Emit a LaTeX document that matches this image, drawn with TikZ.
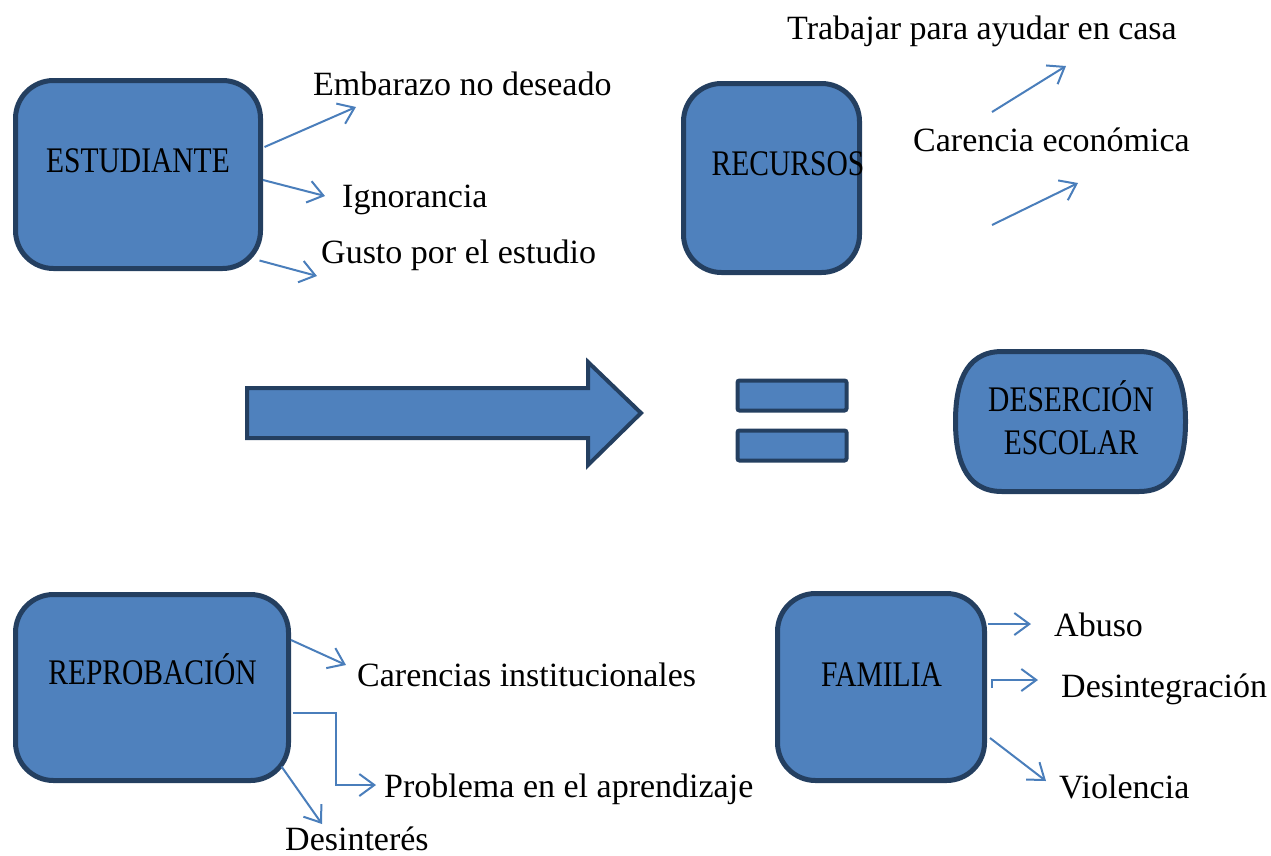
\documentclass[tikz,border=0pt]{standalone}
\usepackage{fontspec}
\setmainfont{Liberation Serif}
\newfontfamily\condfont[FakeStretch=0.82]{Liberation Serif}
\usetikzlibrary{arrows.meta,calc}
\definecolor{boxfill}{HTML}{4F81BD}
\definecolor{boxline}{HTML}{243F60}
\definecolor{arrowc}{HTML}{4A7EBB}
\begin{document}
\begin{tikzpicture}[x=1pt,y=-1pt,
  box/.style={draw=boxline, fill=boxfill, line width=5pt, rounded corners=38pt, inner sep=0pt},
  eqbox/.style={draw=boxline, fill=boxfill, line width=4pt, rounded corners=2pt, inner sep=0pt, minimum width=109pt, minimum height=30pt},
  title/.style={font=\condfont\fontsize{36}{43}\selectfont, inner sep=0pt, anchor=base},
  lbl/.style={font=\fontsize{34}{41}\selectfont, inner sep=0pt, anchor=base west},
  conn/.style={draw=arrowc, line width=2pt, -{Straight Barb[length=15pt,width=22pt]}},
]
\useasboundingbox (0,0) rectangle (1271,855);

% boxes
\node[box, minimum width=245pt, minimum height=188pt] (est) at (138,174.5) {};
\node[box, minimum width=176pt, minimum height=189pt] (rec) at (771.5,178) {};
\node[box, minimum width=273pt, minimum height=186pt] (rep) at (152,687.5) {};
\node[box, minimum width=207pt, minimum height=187pt] (fam) at (881,687) {};

\node[title] (est-t) at (138,172) {ESTUDIANTE};
\node[title] (rec-t) at (788,175) {RECURSOS};
\node[title] (rep-t) at (152.5,684) {REPROBACIÓN};
\node[title] (fam-t) at (881.5,686) {FAMILIA};

% big arrow
\draw[draw=boxline, fill=boxfill, line width=4pt, line join=miter]
  (247,388) -- (588,388) -- (588,362) -- (641,413) -- (588,465) -- (588,438) -- (247,438) -- cycle;

% equals
\node[eqbox] (eq1) at (792,395.5) {};
\node[eqbox] (eq2) at (792,445.5) {};

% desercion
\draw[draw=boxline, fill=boxfill, line width=5pt]
  (1002,351.5) -- (1139,351.5)
  .. controls (1178,351.5) and (1185.5,388) .. (1185.5,421.5)
  .. controls (1185.5,455) and (1178,491.5) .. (1139,491.5)
  -- (1002,491.5)
  .. controls (963,491.5) and (955.5,455) .. (955.5,421.5)
  .. controls (955.5,388) and (963,351.5) .. (1002,351.5) -- cycle;
\node[title] (des-t1) at (1071,411) {DESERCIÓN};
\node[title] (des-t2) at (1071,454) {ESCOLAR};

% labels
\node[lbl] (l1) at (313,95) {Embarazo no deseado};
\node[lbl] (l2) at (342,207) {Ignorancia};
\node[lbl] (l3) at (321,263) {Gusto por el estudio};
\node[lbl] (l4) at (787,39) {Trabajar para ayudar en casa};
\node[lbl] (l5) at (913,151) {Carencia económica};
\node[lbl] (l6) at (357,686) {Carencias institucionales};
\node[lbl] (l7) at (384,797) {Problema en el aprendizaje};
\node[lbl] (l8) at (285,850) {Desinterés};
\node[lbl] (l9) at (1054,636) {Abuso};
\node[lbl] (l10) at (1061,697) {Desintegración};
\node[lbl] (l11) at (1059,798) {Violencia};

% arrow end coordinates
\coordinate (e1) at (356,107);
\coordinate (e2) at (325,196);
\coordinate (e3) at (317,276);
\coordinate (r1s) at (992,112);
\coordinate (r1e) at (1066,66);
\coordinate (r2s) at (992,225);
\coordinate (r2e) at (1078,183);
\coordinate (p1) at (346,665);
\coordinate (p2a) at (336,713);
\coordinate (p2b) at (336,785);
\coordinate (p2) at (376,785);
\coordinate (p3) at (322,824);
\coordinate (f1) at (1031,624);
\coordinate (f2) at (1038,680);
\coordinate (f3) at (1046,781);

% connectors
\draw[conn] ($(est.east)+(1.5,-27.5)$) -- (e1);
\draw[conn] ($(est.east)+(0,5.5)$) -- (e2);
\draw[conn] ($(est.south east)+(-3.5,-10.5)$) -- (e3);
\draw[conn] (r1s) -- (r1e);
\draw[conn] (r2s) -- (r2e);
\draw[conn] ($(rep.east)+(0,-47.5)$) -- (p1);
\draw[conn] ($(rep.east)+(1.5,25.5)$) -- (p2a) -- (p2b) -- (p2);
\draw[conn] ($(rep.south east)+(-9.5,-16.5)$) -- (p3);
\draw[conn] ($(fam.east)+(0.5,-63)$) -- (f1);
\draw[conn] ($(fam.east)+(4.5,1)$) -- ($(fam.east)+(4.5,-7)$) -- (f2);
\draw[conn] ($(fam.east)+(3,51)$) -- (f3);
\end{tikzpicture}
\end{document}
